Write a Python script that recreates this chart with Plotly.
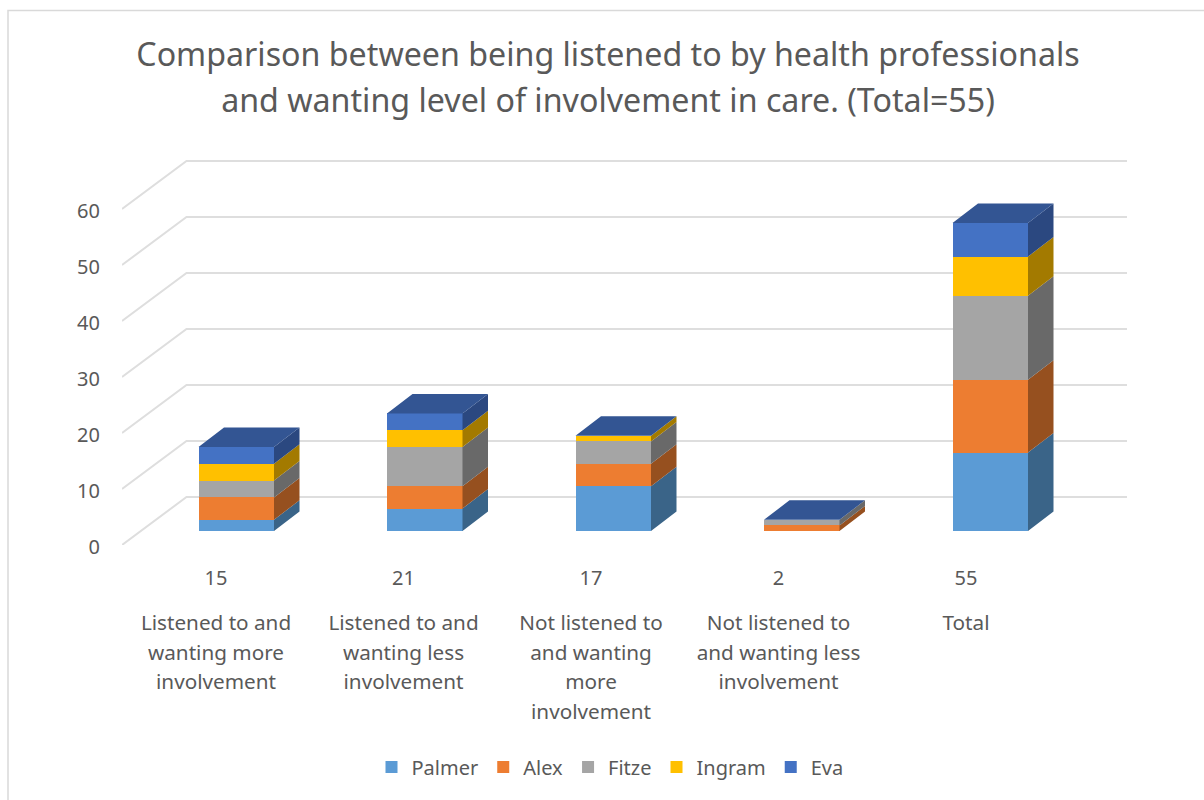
import plotly.graph_objects as go

categories = ["Listened to and<br>wanting more<br>involvement",
              "Listened to and<br>wanting less<br>involvement",
              "Not listened to<br>and wanting<br>more<br>involvement",
              "Not listened to<br>and wanting less<br>involvement",
              "Total"]
totals = [15, 21, 17, 2, 55]
palmer = [2, 4, 8, 0, 14]
alex = [4, 4, 4, 1, 13]
fitze = [3, 7, 4, 1, 15]
ingram = [3, 3, 1, 0, 7]
eva = [3, 3, 0, 0, 6]
y_ticks = [0, 10, 20, 30, 40, 50, 60]

names = ["Palmer", "Alex", "Fitze", "Ingram", "Eva"]
series = [palmer, alex, fitze, ingram, eva]
front = ["#5B9BD5", "#ED7D31", "#A5A5A5", "#FFC000", "#4472C4"]
side = ["#3A6488", "#96501F", "#696969", "#A37A00", "#2B4880"]
top_col = "#335593"
text_col = "#595959"
grid_col = "#DEDEDE"
FONT = "Noto Sans"

W, H = 1204, 800
L, R, T, B = 122, 1127, 100, 545      # plot area in page pixels
PX_PER_UNIT_Y = 5.6
PX_PER_CAT = 187.5                     # spacing of the labels on the floor front
PX_PER_BAR = 188.5                     # spacing of the bars, further back in the view
X0_PX = 216                            # page x of the first category label
y_span = (B - T) / PX_PER_UNIT_Y
x_range = [(L - X0_PX) / PX_PER_CAT, (R - X0_PX) / PX_PER_CAT]
bar_x_range = [(L - X0_PX) / PX_PER_BAR, (R - X0_PX) / PX_PER_BAR]
bar_lift = 14 / PX_PER_UNIT_Y          # bars stand 14 px in from the front of the floor
bar_left = -17.5 / PX_PER_BAR
bar_w = 75.5 / PX_PER_BAR
dx = 25.5 / PX_PER_BAR                 # bar depth
dy = 19.5 / PX_PER_UNIT_Y
wall_dx = 64.5 / PX_PER_CAT            # wall depth
wall_dy = 48 / PX_PER_UNIT_Y


def sized(text, px):
    """Keep the line box of the parent font but draw the glyphs at px."""
    return "<br>".join(f'<span style="font-size:{px}px">{t}</span>' for t in text.split("<br>"))


fig = go.Figure()

# floor and wall lines
gx, gy = [], []
for v in y_ticks:
    gx += [x_range[0], x_range[0] + wall_dx, x_range[1], None]
    gy += [v, v + wall_dy, v + wall_dy, None]
fig.add_trace(go.Scatter(x=gx, y=gy, mode="lines", line=dict(color=grid_col, width=2),
                         showlegend=False, hoverinfo="skip", xaxis="x", yaxis="y"))

# invisible trace that keeps the second x axis (category labels) alive
fig.add_trace(go.Scatter(x=[0], y=[0], mode="markers", marker=dict(opacity=0), showlegend=False,
                         hoverinfo="skip", xaxis="x2", yaxis="y"))

xs = list(range(len(categories)))
for name, vals, col in zip(names, series, front):
    fig.add_trace(go.Bar(x=xs, y=vals, name=name, marker=dict(color=col, line=dict(width=0)),
                         width=bar_w, offset=bar_left, xaxis="x3", yaxis="y2"))

# side faces
base = [0] * len(xs)
for vals, col in zip(series, side):
    sx, sy = [], []
    for i, v in enumerate(vals):
        if v == 0:
            continue
        xr = i + bar_left + bar_w
        b0, b1 = base[i], base[i] + v
        sx += [xr, xr + dx, xr + dx, xr, xr, None]
        sy += [b0, b0 + dy, b1 + dy, b1, b0, None]
    fig.add_trace(go.Scatter(x=sx, y=sy, mode="lines", fill="toself", fillcolor=col,
                             line=dict(width=0), showlegend=False, hoverinfo="skip",
                             xaxis="x3", yaxis="y2"))
    base = [a + v for a, v in zip(base, vals)]

# top faces
tx, ty = [], []
for i, t in enumerate(base):
    xl = i + bar_left
    xr = xl + bar_w
    tx += [xl, xr, xr + dx, xl + dx, xl, None]
    ty += [t, t, t + dy, t + dy, t, None]
fig.add_trace(go.Scatter(x=tx, y=ty, mode="lines", fill="toself", fillcolor=top_col,
                         line=dict(width=0), showlegend=False, hoverinfo="skip",
                         xaxis="x3", yaxis="y2"))

fig.update_layout(
    width=W, height=H, autosize=False,
    margin=dict(l=L, r=W - R, t=T, b=H - B),
    paper_bgcolor="white", plot_bgcolor="rgba(0,0,0,0)",
    barmode="stack", bargap=0,
    font=dict(family=FONT, color=text_col, size=20),
    title=dict(text=sized("Comparison between being listened to by health professionals<br>"
                          "and wanting level of involvement in care. (Total=55)", 32.2),
               font=dict(family=FONT, size=35.4, color=text_col),
               x=608 / W, xanchor="center", y=1 - 66 / H, yanchor="middle"),
    xaxis=dict(range=x_range, tickmode="array", tickvals=xs, ticktext=[str(t) for t in totals],
               showgrid=False, zeroline=False, showline=False, ticks="outside", ticklen=15,
               tickcolor="rgba(0,0,0,0)", tickfont=dict(size=20, color=text_col), fixedrange=True),
    xaxis2=dict(range=x_range, overlaying="x", side="bottom", anchor="y", tickmode="array", tickvals=xs,
                ticktext=[sized(c, 20.7) for c in categories],
                showgrid=False, zeroline=False, showline=False, ticks="outside", ticklen=57,
                tickcolor="rgba(0,0,0,0)", tickfont=dict(size=22.7, color=text_col), fixedrange=True),
    xaxis3=dict(range=bar_x_range, overlaying="x", side="bottom", anchor="y2", visible=False, fixedrange=True),
    yaxis=dict(range=[0, y_span], tickmode="array", tickvals=y_ticks, showgrid=False, zeroline=False,
               showline=False, ticks="outside", ticklen=17, tickcolor="rgba(0,0,0,0)",
               tickfont=dict(size=20, color=text_col), ticklabelshift=2, fixedrange=True),
    yaxis2=dict(range=[-bar_lift, y_span - bar_lift], overlaying="y", side="left", anchor="x3",
                visible=False, fixedrange=True),
    legend=dict(orientation="h", x=0.5 + (610 - (L + R) / 2) / (R - L), xanchor="center",
                y=1 - (767 - T) / (B - T), yanchor="middle", font=dict(size=20, color=text_col),
                bgcolor="rgba(0,0,0,0)", traceorder="normal"),
    shapes=[dict(type="rect", xref="paper", yref="paper",
                 x0=(8 - L) / (R - L), x1=(1215 - L) / (R - L),
                 y0=(B - 815) / (B - T), y1=(B - 10.5) / (B - T),
                 line=dict(color="#D9D9D9", width=1.5), layer="below")],
)

fig.write_html("out.html", config=dict(displayModeBar=False),
               post_script="document.body.style.margin='0';")
